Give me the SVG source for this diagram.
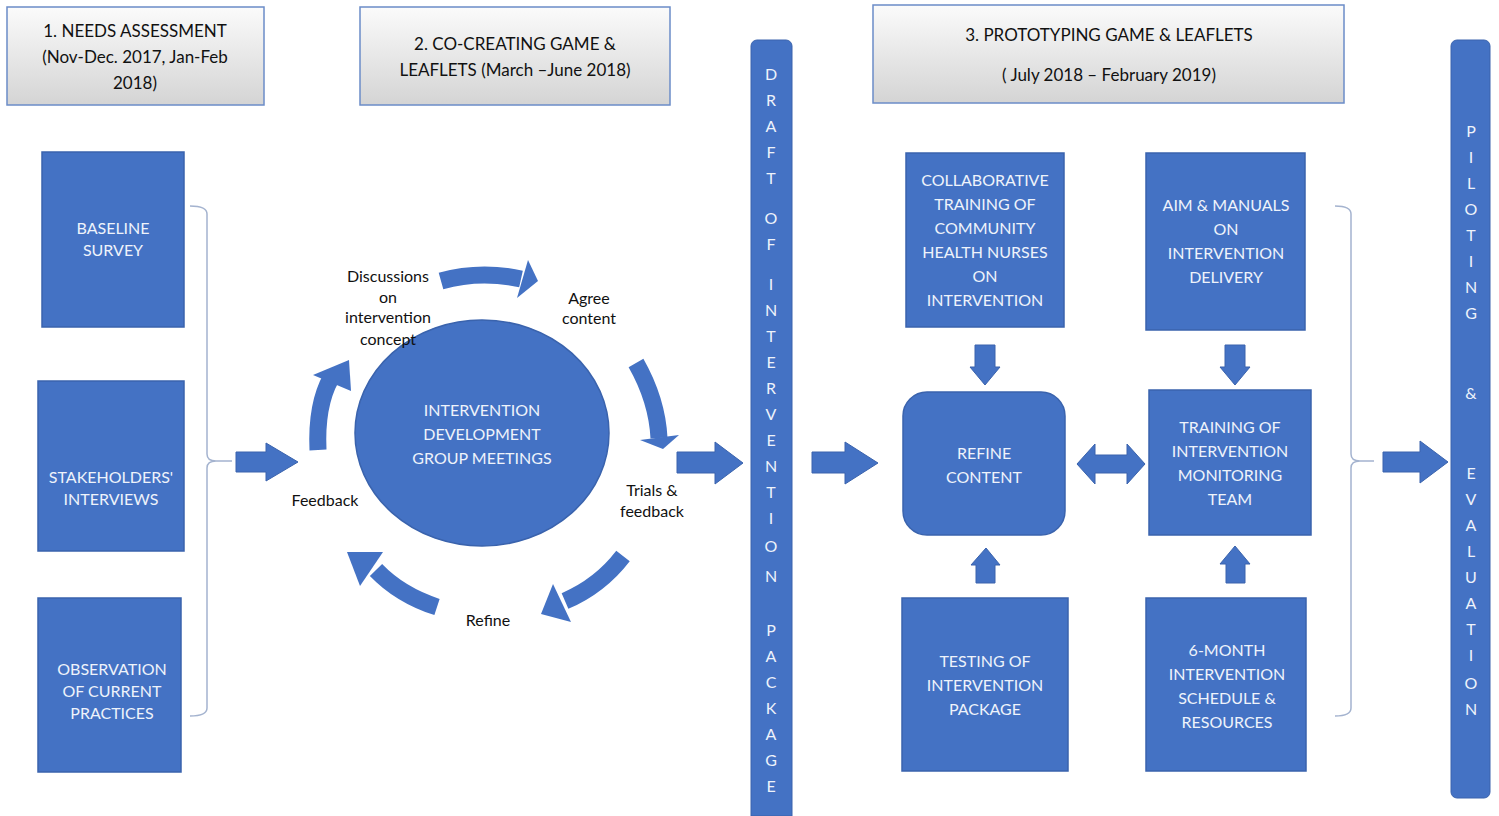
<svg xmlns="http://www.w3.org/2000/svg" width="1499" height="816" viewBox="0 0 1499 816">
<defs>
<linearGradient id="hdr" x1="0" y1="0" x2="0" y2="1">
<stop offset="0" stop-color="#fbfbfb"/>
<stop offset="1" stop-color="#d4d4d4"/>
</linearGradient>
<style>
.hdr{fill:url(#hdr);stroke:#6b8cc8;stroke-width:1.5}
.box{fill:#4472c4;stroke:#3a63ad;stroke-width:1.5}
.blue{fill:#4472c4;stroke:#3a63ad;stroke-width:1}
.band{fill:none;stroke:#4472c4;stroke-width:17}
.brk{fill:none;stroke:#a4b3cf;stroke-width:1.5}
text{font-family:Lato,"Liberation Sans",sans-serif;text-anchor:middle}
.ht{font-size:17px;fill:#111}
.bt{font-size:16px;fill:#eef3fb}
.lt{font-size:16px;fill:#111}
.vt{font-size:16px;fill:#eef3fb}
</style>
</defs>
<rect width="1499" height="816" fill="#ffffff"/>

<g id="header1"><rect class="hdr" x="7" y="7" width="257" height="98"/>
<text class="ht" x="135" y="37">1. NEEDS ASSESSMENT</text>
<text class="ht" x="135" y="63">(Nov-Dec. 2017, Jan-Feb</text>
<text class="ht" x="135" y="89">2018)</text></g>
<g id="header2"><rect class="hdr" x="360" y="7" width="310" height="98"/>
<text class="ht" x="515" y="50">2. CO-CREATING GAME &amp;</text>
<text class="ht" x="515" y="76">LEAFLETS (March –June 2018)</text></g>
<g id="header3"><rect class="hdr" x="873" y="5" width="471" height="98"/>
<text class="ht" x="1109" y="41">3. PROTOTYPING GAME &amp; LEAFLETS</text>
<text class="ht" x="1109" y="81">( July 2018 – February 2019)</text></g>

<g id="baseline"><rect class="box" x="42" y="152" width="142" height="175"/>
<text class="bt" x="113" y="234">BASELINE</text><text class="bt" x="113" y="256">SURVEY</text></g>
<g id="stakeholders"><rect class="box" x="38" y="381" width="146" height="170"/>
<text class="bt" x="111" y="483">STAKEHOLDERS'</text><text class="bt" x="111" y="505">INTERVIEWS</text></g>
<g id="observation"><rect class="box" x="38" y="598" width="143" height="174"/>
<text class="bt" x="112" y="675">OBSERVATION</text><text class="bt" x="112" y="697">OF CURRENT</text><text class="bt" x="112" y="719">PRACTICES</text></g>

<g id="meetings"><ellipse class="box" cx="482" cy="433" rx="127" ry="113"/>
<text class="bt" x="482" y="416">INTERVENTION</text><text class="bt" x="482" y="440">DEVELOPMENT</text><text class="bt" x="482" y="464">GROUP MEETINGS</text></g>

<g id="cycle-labels">
<text class="lt" x="388" y="282">Discussions</text><text class="lt" x="388" y="303">on</text><text class="lt" x="388" y="323">intervention</text><text class="lt" x="388" y="345">concept</text>
<text class="lt" x="589" y="304">Agree</text><text class="lt" x="589" y="324">content</text>
<text class="lt" x="652" y="496">Trials &amp;</text><text class="lt" x="652" y="517">feedback</text>
<text class="lt" x="488" y="626">Refine</text>
<text class="lt" x="325" y="506">Feedback</text>
</g>

<g id="draft-bar"><path class="blue" d="M751,46 a6,6 0 0 1 6,-6 h29 a6,6 0 0 1 6,6 V816 H751 Z"/>
<g class="vt">
<text class="vt" x="771" y="80">D</text><text class="vt" x="771" y="106">R</text><text class="vt" x="771" y="132">A</text><text class="vt" x="771" y="158">F</text><text class="vt" x="771" y="184">T</text>
<text class="vt" x="771" y="224">O</text><text class="vt" x="771" y="250">F</text>
<text class="vt" x="771" y="290">I</text><text class="vt" x="771" y="316">N</text><text class="vt" x="771" y="342">T</text><text class="vt" x="771" y="368">E</text><text class="vt" x="771" y="394">R</text><text class="vt" x="771" y="420">V</text><text class="vt" x="771" y="446">E</text><text class="vt" x="771" y="472">N</text><text class="vt" x="771" y="498">T</text><text class="vt" x="771" y="524">I</text><text class="vt" x="771" y="552">O</text><text class="vt" x="771" y="582">N</text>
<text class="vt" x="771" y="636">P</text><text class="vt" x="771" y="662">A</text><text class="vt" x="771" y="688">C</text><text class="vt" x="771" y="714">K</text><text class="vt" x="771" y="740">A</text><text class="vt" x="771" y="766">G</text><text class="vt" x="771" y="792">E</text>
</g></g>

<g id="piloting-bar"><rect class="blue" x="1451" y="40" width="39" height="758" rx="6"/>
<text class="vt" x="1471" y="137">P</text><text class="vt" x="1471" y="163">I</text><text class="vt" x="1471" y="189">L</text><text class="vt" x="1471" y="215">O</text><text class="vt" x="1471" y="241">T</text><text class="vt" x="1471" y="267">I</text><text class="vt" x="1471" y="293">N</text><text class="vt" x="1471" y="319">G</text>
<text class="vt" x="1471" y="399">&amp;</text>
<text class="vt" x="1471" y="479">E</text><text class="vt" x="1471" y="505">V</text><text class="vt" x="1471" y="531">A</text><text class="vt" x="1471" y="557">L</text><text class="vt" x="1471" y="583">U</text><text class="vt" x="1471" y="609">A</text><text class="vt" x="1471" y="635">T</text><text class="vt" x="1471" y="661">I</text><text class="vt" x="1471" y="689">O</text><text class="vt" x="1471" y="715">N</text>
</g>

<g id="collaborative"><rect class="box" x="906" y="153" width="158" height="174"/>
<text class="bt" x="985" y="186">COLLABORATIVE</text><text class="bt" x="985" y="210">TRAINING OF</text><text class="bt" x="985" y="234">COMMUNITY</text><text class="bt" x="985" y="258">HEALTH NURSES</text><text class="bt" x="985" y="282">ON</text><text class="bt" x="985" y="306">INTERVENTION</text></g>
<g id="aim-manuals"><rect class="box" x="1146" y="153" width="159" height="177"/>
<text class="bt" x="1226" y="211">AIM &amp; MANUALS</text><text class="bt" x="1226" y="235">ON</text><text class="bt" x="1226" y="259">INTERVENTION</text><text class="bt" x="1226" y="283">DELIVERY</text></g>
<g id="refine-content"><rect class="box" x="903" y="392" width="162" height="143" rx="24"/>
<text class="bt" x="984" y="459">REFINE</text><text class="bt" x="984" y="483">CONTENT</text></g>
<g id="training-team"><rect class="box" x="1149" y="390" width="162" height="145"/>
<text class="bt" x="1230" y="433">TRAINING OF</text><text class="bt" x="1230" y="457">INTERVENTION</text><text class="bt" x="1230" y="481">MONITORING</text><text class="bt" x="1230" y="505">TEAM</text></g>
<g id="testing"><rect class="box" x="902" y="598" width="166" height="173"/>
<text class="bt" x="985" y="667">TESTING OF</text><text class="bt" x="985" y="691">INTERVENTION</text><text class="bt" x="985" y="715">PACKAGE</text></g>
<g id="six-month"><rect class="box" x="1146" y="598" width="160" height="173"/>
<text class="bt" x="1227" y="656">6-MONTH</text><text class="bt" x="1227" y="680">INTERVENTION</text><text class="bt" x="1227" y="704">SCHEDULE &amp;</text><text class="bt" x="1227" y="728">RESOURCES</text></g>

<g id="connectors">
<path class="brk" d="M190,206 Q207,206 207,214 V454 Q207,461 216,461 H232 M216,461 Q207,461 207,468 V708 Q207,716 190,716"/>
<path class="brk" d="M1335,206 Q1351,206 1351,214 V454 Q1351,461 1360,461 H1374 M1360,461 Q1351,461 1351,468 V708 Q1351,716 1335,716"/>

<polygon class="blue" points="236,452 266,452 266,443 298,462 266,481 266,472 236,472"/>
<polygon class="blue" points="677,452 715,452 715,442 743,463 715,484 715,473 677,473"/>
<polygon class="blue" points="812,452 845,452 845,442 878,463 845,484 845,473 812,473"/>
<polygon class="blue" points="1383,452 1420,452 1420,441 1448,462 1420,483 1420,472 1383,472"/>

<polygon class="blue" points="975,345 995,345 995,367 1000,367 985,385 970,367 975,367"/>
<polygon class="blue" points="1225,345 1245,345 1245,367 1250,367 1235,385 1220,367 1225,367"/>
<polygon class="blue" points="976,583 995,583 995,565 1000,565 986,548 971,565 976,565"/>
<polygon class="blue" points="1226,583 1245,583 1245,564 1250,564 1235,546 1220,564 1226,564"/>
<polygon class="blue" points="1077,464 1095,444 1095,455 1127,455 1127,444 1145,464 1127,484 1127,473 1095,473 1095,484"/>

<path class="band" d="M441,281 Q480,270 521,279"/>
<polygon fill="#4472c4" points="528,260 538,281 517,298"/>
<path class="band" d="M636,363 Q657,400 659,438"/>
<polygon fill="#4472c4" points="640,440 679,435 663,449"/>
<path class="band" d="M623,556 Q600,586 565,601"/>
<polygon fill="#4472c4" points="553,584 571,622 541,614"/>
<path class="band" d="M437,607 Q400,595 376,570"/>
<polygon fill="#4472c4" points="383,552 360,586 347,552"/>
<path class="band" d="M318,450 Q316,405 331,378"/>
<polygon fill="#4472c4" points="313,375 351,391 349,360"/>
</g>
</svg>
